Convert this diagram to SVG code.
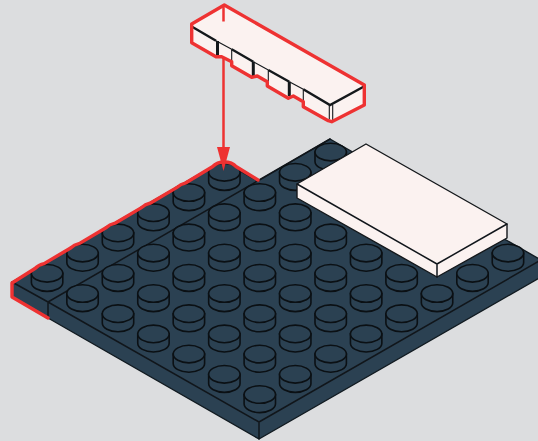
<svg xmlns="http://www.w3.org/2000/svg" xmlns:xlink="http://www.w3.org/1999/xlink" width="538" height="441" viewBox="0 0 538 441">
<style>
.plate{fill:#2b4152;stroke:#111a20;stroke-width:1.4;stroke-linejoin:round}
.ln{fill:none;stroke:#11161b;stroke-width:1.5;stroke-linecap:round;stroke-linejoin:round}
.stud{fill:#2b4152;stroke:#0b1014;stroke-width:1.6}
.tile{fill:#fbf2f0;stroke:#14181b;stroke-width:1.4;stroke-linejoin:round}
.red{fill:none;stroke:#ee3232;stroke-width:3.4;stroke-linejoin:round;stroke-linecap:round}
.thick{fill:none;stroke:#14181b;stroke-width:2.4}
.thin{fill:none;stroke:#14181b;stroke-width:1.1}
</style>
<defs>
<g id="s"><path class="stud" d="M-15.7,0v9.3a15.7,8.8 0 0 0 31.4,0V0z"/><ellipse class="stud" rx="15.7" ry="8.8"/></g>
</defs>
<rect width="538" height="441" fill="#dcdddf"/>
<g id="base-plate">
<path class="plate" d="M12,282L222,161L258,181L330,139L541,260V277L259,439L48,318L12,297Z"/>
<path class="ln" d="M12,282L48,302L330,139M48,302V318M48,302L259,422L541,260M259,422V439"/>
</g>
<g id="studs">
<use href="#s" x="330.7" y="152.1"/>
<use href="#s" x="295.25" y="172.3"/><use href="#s" x="224.35" y="172.3"/>
<use href="#s" x="259.8" y="192.5"/><use href="#s" x="188.9" y="192.5"/>
<use href="#s" x="295.25" y="212.7"/><use href="#s" x="224.35" y="212.7"/><use href="#s" x="153.45" y="212.7"/>
<use href="#s" x="330.7" y="232.9"/><use href="#s" x="259.8" y="232.9"/><use href="#s" x="188.9" y="232.9"/><use href="#s" x="118" y="232.9"/>
<use href="#s" x="507.95" y="253.1"/><use href="#s" x="366.15" y="253.1"/><use href="#s" x="295.25" y="253.1"/><use href="#s" x="224.35" y="253.1"/><use href="#s" x="153.45" y="253.1"/><use href="#s" x="82.55" y="253.1"/>
<use href="#s" x="472.5" y="273.3"/><use href="#s" x="401.6" y="273.3"/><use href="#s" x="330.7" y="273.3"/><use href="#s" x="259.8" y="273.3"/><use href="#s" x="188.9" y="273.3"/><use href="#s" x="118" y="273.3"/><use href="#s" x="47.1" y="273.3"/>
<use href="#s" x="437.05" y="293.5"/><use href="#s" x="366.15" y="293.5"/><use href="#s" x="295.25" y="293.5"/><use href="#s" x="224.35" y="293.5"/><use href="#s" x="153.45" y="293.5"/><use href="#s" x="82.55" y="293.5"/>
<use href="#s" x="401.6" y="313.7"/><use href="#s" x="330.7" y="313.7"/><use href="#s" x="259.8" y="313.7"/><use href="#s" x="188.9" y="313.7"/><use href="#s" x="118" y="313.7"/>
<use href="#s" x="366.15" y="333.9"/><use href="#s" x="295.25" y="333.9"/><use href="#s" x="224.35" y="333.9"/><use href="#s" x="153.45" y="333.9"/>
<use href="#s" x="330.7" y="354.1"/><use href="#s" x="259.8" y="354.1"/><use href="#s" x="188.9" y="354.1"/>
<use href="#s" x="295.25" y="374.3"/><use href="#s" x="224.35" y="374.3"/>
<use href="#s" x="259.8" y="394.5"/>
</g>
<g id="highlight-row">
<path class="red" d="M48,318L12,297V283L35,268.5Q38.6,264.6 44.1,263.6L70.6,248Q74,244.6 79.6,243.4L106,227.8Q109.5,224.4 115,223.2L141.5,207.6Q145,204.2 150.5,203L177,187.4Q180.4,184 185.9,182.8L212.4,166.8Q217,162 224.4,162Q232,162 236.4,166.8L258,180"/>
</g>
<g id="tile">
<path class="tile" d="M297,184L366,144L507,224V238L437,277L297,198Z"/>
<path class="ln" d="M297,184L437,264L507,224M437,264V277"/>
</g>
<g id="brick">
<path d="M191.7,24L224.3,5L364.3,85V105L331.7,121.7L328.3,120.7L303.3,106.7V101.7L293.3,96L288.3,98.3L267.3,86V81.7L257.3,76L251.7,77.3L231.7,65.7V61.7L221.7,56.7H216L191.7,42.7Z" fill="#fbf2f0"/>
<path class="thick" d="M192.5,27L216,40.7M231.7,49.3L253.3,61.7M268.3,70L289.3,81.7M303.3,89.3L330,105L363.5,86.7"/>
<path class="thin" d="M216,40.7L231.7,49.3M253.3,61.7L268.3,70M289.3,81.7L303.3,89.3M231.7,49.3V61.7M268.3,70V81.7M303.3,89.3V101.7M329.3,105V119.3M332.7,105V120"/>
<path fill="none" stroke="#14181b" stroke-width="3" d="M217.5,41V55.5M253.3,61.7V76M289.3,81.7V96"/>
<path class="red" d="M191.7,24L224.3,5L364.3,85V105L331.7,121.7L328.3,120.7L303.3,106.7V101.7L293.3,96L288.3,98.3L267.3,86V81.7L257.3,76L251.7,77.3L231.7,65.7V61.7L221.7,56.7H216L191.7,42.7Z"/>
<path d="M223.5,6V21.5" fill="none" stroke="#ee3232" stroke-width="2.5"/>
</g>
<g id="connectors">
<path d="M223.5,57V150" fill="none" stroke="#ee3232" stroke-width="2.5"/>
<path d="M217,147L223.5,171L230,147Z" fill="#ee3232"/>
</g>
</svg>
